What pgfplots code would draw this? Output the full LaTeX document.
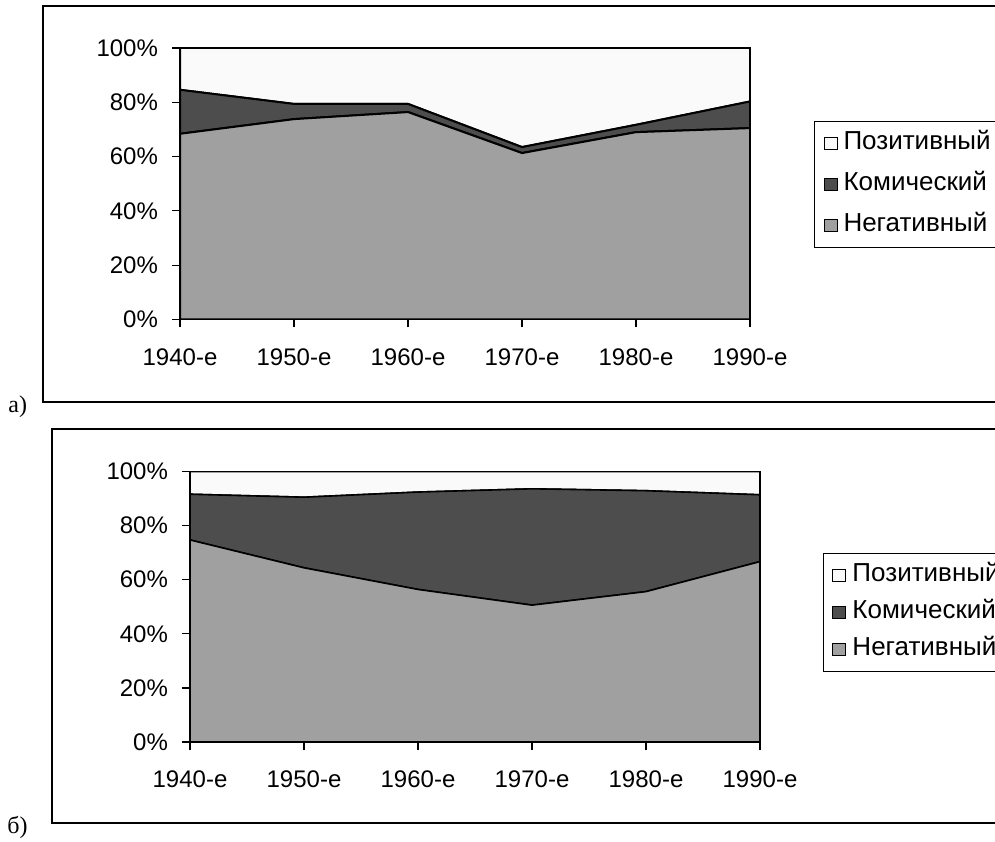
\documentclass[border=0pt]{standalone}
\usepackage{pgfplots}
\pgfplotsset{compat=1.18}
\usepackage{fontspec}
\setmainfont{Liberation Sans}
\newfontfamily\seriffont{Liberation Serif}
\definecolor{pos}{HTML}{FAFAFA}
\definecolor{com}{HTML}{4D4D4D}
\definecolor{neg}{HTML}{A0A0A0}
\pgfplotsset{panel/.style={
  scale only axis, width=285pt,
  xmin=0, xmax=5, ymin=0, ymax=100,
  xtick={0,1,2,3,4,5},
  xticklabels={1940-е,1950-е,1960-е,1970-е,1980-е,1990-е},
  ytick={0,20,40,60,80,100},
  yticklabels={0\%,20\%,40\%,60\%,80\%,100\%},
  xtick pos=left, ytick pos=left,
  tick align=outside, major tick length=4pt,
  tick style={black, line width=0.6pt},
  axis line style={black, line width=0.75pt},
  tick label style={font=\fontsize{12}{14}\selectfont},
  xticklabel style={yshift=-7pt},
  yticklabel style={xshift=-3.5pt},
  stack plots=y, area style,
  reverse legend,
  legend cell align=left,
  legend image code/.code={\draw[#1,draw=black,line width=0.5pt] (0pt,-3.2pt) rectangle (6.5pt,3.2pt);},
  legend style={anchor=north west, draw=black, line width=0.5pt, fill=white,
     font=\fontsize{13}{15}\selectfont, inner xsep=4.5pt, inner ysep=5.5pt, column sep=0.5pt,
     nodes={inner xsep=2.5pt, inner ysep=0pt, text height=8.6pt, text depth=2.4pt}},
}}
\begin{document}
\begin{tikzpicture}[x=1pt,y=1pt]
\begin{scope}
\clip (0,0) rectangle (497.5,420.5);
% frames
\draw[black, line width=0.75pt] (21.5,219.5) rectangle (520,417.5);
\draw[black, line width=0.75pt] (26,9) rectangle (520,206);
\node[anchor=base west, inner sep=0pt, font=\seriffont\fontsize{12}{14}\selectfont] at (4,214) {а)};
\node[anchor=base west, inner sep=0pt, font=\seriffont\fontsize{12}{14}\selectfont] at (3.5,4) {б)};
% panel a
\begin{axis}[panel, height=135.75pt, at={(90pt,260.75pt)}, anchor=south west,
  legend style={at={(axis description cs:1.1123,0.7311)}, row sep=9.5pt}]
\addplot[fill=neg, draw=black, line width=1pt] coordinates {(0,68.4)(1,73.8)(2,76.4)(3,61.3)(4,69.0)(5,70.5)} \closedcycle;
\addplot[fill=com, draw=black, line width=1pt] coordinates {(0,16.2)(1,5.6)(2,3.0)(3,2.2)(4,2.7)(5,9.8)} \closedcycle;
\addplot[fill=pos, draw=black, line width=1pt] coordinates {(0,15.4)(1,20.6)(2,20.6)(3,36.5)(4,28.3)(5,19.7)} \closedcycle;
\legend{Негативный, Комический, Позитивный}
\end{axis}
% panel b
\begin{axis}[panel, height=135.25pt, at={(95pt,49.5pt)}, anchor=south west,
  legend style={at={(axis description cs:1.1105,0.6987)}, row sep=7.5pt}]
\addplot[fill=neg, draw=black, line width=0.8pt] coordinates {(0,74.7)(1,64.4)(2,56.4)(3,50.6)(4,55.6)(5,66.7)} \closedcycle;
\addplot[fill=com, draw=black, line width=0.8pt] coordinates {(0,16.9)(1,26.1)(2,36.0)(3,43.0)(4,37.3)(5,24.7)} \closedcycle;
\addplot[fill=pos, draw=black, line width=0.8pt] coordinates {(0,8.4)(1,9.5)(2,7.6)(3,6.4)(4,7.1)(5,8.6)} \closedcycle;
\legend{Негативный, Комический, Позитивный}
\end{axis}
\end{scope}
\pgfresetboundingbox
\path[use as bounding box] (0,0) rectangle (497.5,420.5);
\end{tikzpicture}
\end{document}
